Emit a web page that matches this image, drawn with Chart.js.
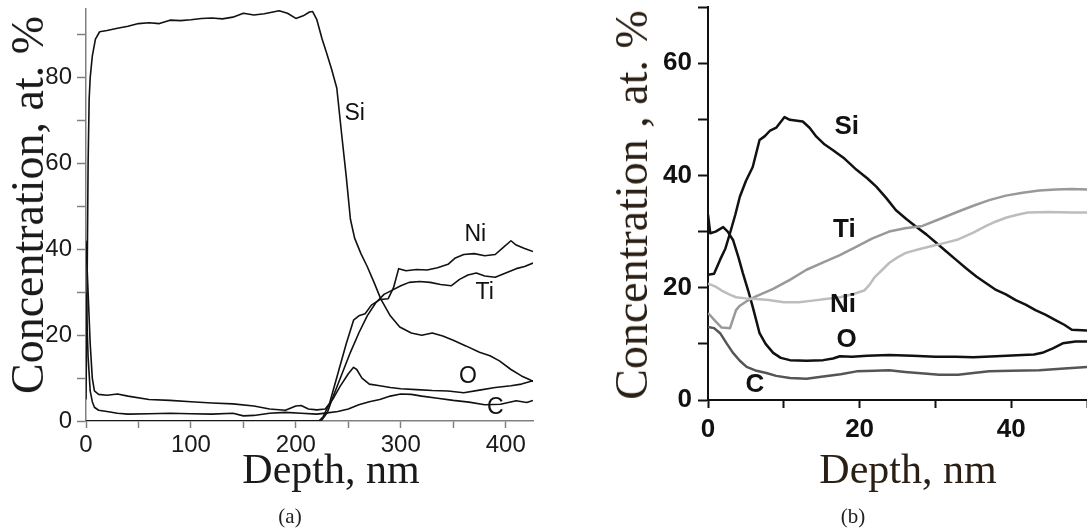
<!DOCTYPE html>
<html>
<head>
<meta charset="utf-8">
<script src="https://cdn.jsdelivr.net/npm/chart.js@4.4.1/dist/chart.umd.min.js"></script>
<style>
  html, body { margin: 0; padding: 0; background: #fff; }
  #page { position: relative; width: 1087px; height: 531px; overflow: hidden; }
  canvas { position: absolute; top: 0; }
  #chart-a { left: 0; }
  #chart-b { left: 560px; }
  .ytitle, .xtitle, .panel { position: absolute; font-family: "Liberation Serif", "Times New Roman", serif; white-space: nowrap; }
  .ytitle { font-size: 46px; line-height: 46px; transform: translate(-50%, -50%) rotate(-90deg); }
  .xtitle { font-size: 42px; line-height: 42px; transform: translateX(-50%); }
  .panel { font-size: 21px; line-height: 21px; transform: translateX(-50%); color: #222; }
</style>
</head>
<body>
<div id="page">
  <canvas id="chart-a" width="545" height="531"></canvas>
  <canvas id="chart-b" width="527" height="531"></canvas>
  <div class="ytitle" style="left:28px; top:205px; color:#1a1a1a;">Concentration, at. %</div>
  <div class="xtitle" style="left:331px; top:448px; color:#1a1a1a;">Depth, nm</div>
  <div class="panel" style="left:290px; top:506px;">(a)</div>
  <div class="ytitle" style="left:632px; top:205px; color:#2a1f14;">Concentration , at. %</div>
  <div class="xtitle" style="left:908px; top:448px; color:#2a1f14;">Depth, nm</div>
  <div class="panel" style="left:853px; top:506px;">(b)</div>
</div>
<script>
// ---- panel (a): depth profile, 0..426 nm ----
const aSiDepth = [0, 1, 2, 3, 4, 6, 9, 13, 20, 30, 40, 50, 60, 70, 80, 90, 100, 110, 120, 130, 140, 150, 160, 170, 184, 192, 200, 207, 213, 216, 220, 225, 229, 234, 239, 244, 248, 252, 256, 262, 268, 275, 281, 290, 299, 310, 320, 330, 340, 350, 362, 375, 385, 394, 405, 415, 423, 426];
const aSi      = [5, 30, 60, 75, 80, 85, 89, 90.7, 91, 91.5, 92, 92.6, 92.8, 92.6, 93.4, 93.3, 93.5, 93.8, 93.9, 93.7, 94.1, 95, 94.6, 94.9, 95.6, 95, 93.8, 94.4, 95.3, 95.4, 93.5, 89, 86, 82, 77.6, 66, 57, 47, 42.6, 39, 36, 32, 28.4, 24.5, 21.9, 20.5, 20, 20.5, 19.8, 18.8, 17.5, 16, 15.2, 14, 12, 10.5, 9.6, 9.2];

const aODepth = [0, 2, 4, 6, 8, 12, 20, 30, 40, 60, 80, 100, 120, 140, 160, 175, 190, 200, 205, 212, 220, 228, 235, 242, 250, 255, 258, 263, 270, 280, 290, 300, 315, 330, 345, 360, 375, 390, 405, 415, 426];
const aO      = [42, 30, 18, 10, 7, 6.2, 6, 6.3, 5.8, 5, 4.8, 4.5, 4.2, 4, 3.5, 2.8, 2.5, 3.5, 3.6, 2.8, 2.6, 2.8, 5, 8, 11, 12.5, 12, 10, 8.6, 8.2, 7.8, 7.5, 7.3, 7.1, 7, 6.6, 7.2, 7.8, 8.2, 8.6, 9.4];

const aCDepth = [0, 2, 4, 6, 8, 12, 20, 30, 40, 60, 80, 100, 120, 140, 150, 160, 175, 190, 205, 220, 230, 240, 250, 260, 270, 280, 290, 300, 310, 320, 335, 350, 365, 380, 395, 410, 420, 426];
const aC      = [30, 15, 7, 4.5, 3.2, 2.5, 2.2, 1.8, 1.6, 1.7, 1.8, 1.7, 1.6, 1.8, 1.2, 1.3, 1.8, 2, 1.8, 1.6, 1.9, 2.2, 2.8, 3.8, 4.5, 5, 5.8, 6.3, 6.2, 5.8, 5.3, 4.8, 4.4, 3.8, 3.9, 4.7, 4.3, 4.8];

const aNiDepth = [0, 222, 226, 232, 240, 248, 255, 260, 266, 272, 280, 288, 293, 298, 305, 315, 325, 335, 345, 352, 360, 370, 380, 390, 398, 405, 410, 418, 426];
const aNi      = [0, 0, 1, 4, 11, 18, 23.5, 24.5, 25, 27, 28.3, 28.5, 31, 35.5, 35, 35.3, 35.2, 35.7, 36.5, 38, 38.8, 39, 38.5, 38.8, 40.5, 42, 41, 40.2, 39.5];

const aTiDepth = [0, 224, 230, 236, 244, 252, 260, 268, 276, 284, 292, 300, 308, 318, 328, 338, 348, 356, 364, 372, 380, 390, 400, 410, 418, 426];
const aTi      = [0, 0, 2, 6, 11, 16, 20.5, 24.5, 27.5, 29.5, 30.5, 31.5, 32.3, 32.5, 32.3, 31.8, 31.5, 33, 34, 34.5, 33.8, 33.5, 34.5, 35.5, 36, 36.8];

const aTicksX = [0, 50, 100, 150, 200, 250, 300, 350, 400];
const aTickLabelsX = ['0', '', '100', '', '200', '', '300', '', '400'];
const aTicksY = [0, 10, 20, 30, 40, 50, 60, 70, 80, 90];
const aTickLabelsY = ['0', '', '20', '', '40', '', '60', '', '80', ''];

const aLabelText  = ['Si', 'Ni', 'Ti', 'O', 'C'];
const aLabelDepth = [256, 371, 380, 364, 390];
const aLabelConc  = [71.6, 43.4, 30, 10.3, 3];

// ---- panel (b): depth profile, 0..50 nm ----
const bSiDepth = [0, 0.8, 1.6, 2.3, 2.9, 3.6, 4.2, 5, 5.9, 6.8, 7.5, 8.2, 9, 10.1, 10.8, 12.5, 13.4, 14.3, 15.4, 16.5, 18, 19.6, 21, 22.2, 23.5, 24.8, 26.2, 27.5, 28.8, 30.1, 31.4, 32.7, 34, 35.4, 36.7, 38, 39.3, 40.6, 41.9, 43.2, 44.5, 45.9, 47, 48, 50];
const bSi      = [22.3, 22.5, 25, 27, 29.7, 33, 36.2, 39, 41.5, 46.3, 47, 48, 48.5, 50.4, 49.9, 49.6, 48.5, 46.9, 45.5, 44.5, 43, 41, 39.5, 38, 36, 33.8, 32.2, 30.8, 29.5, 28, 26.5, 25, 23.5, 22, 20.8, 19.6, 18.8, 17.8, 17, 16, 15.2, 14.2, 13.4, 12.5, 12.4];

const bODepth = [0, 0.3, 1, 2, 2.6, 3.3, 4, 4.6, 5.3, 5.9, 6.4, 6.8, 7.6, 8.6, 9.6, 10.8, 13, 15.2, 16.5, 17.4, 19, 21, 23.9, 27, 30, 32.7, 35, 38, 41.5, 43, 44.1, 45.5, 46.8, 48.5, 50];
const bO      = [33, 29.7, 30, 30.8, 30, 28.5, 25.5, 22.6, 19.5, 16.6, 14, 11.9, 10, 8.4, 7.5, 7.1, 7, 7.1, 7.4, 7.8, 7.7, 7.9, 8, 7.9, 7.7, 7.7, 7.6, 7.8, 8, 8.1, 8.4, 9.2, 10.1, 10.4, 10.4];

const bCDepth = [0, 0.8, 1.6, 2.5, 3.3, 4.2, 5.1, 6.4, 7.7, 9, 10.8, 13, 15.2, 17.5, 19.6, 22, 23.9, 26, 28.5, 30.5, 33, 35, 37.1, 40, 43.7, 47, 50];
const bC      = [13, 12.8, 11.9, 10, 8.4, 7, 5.9, 5.2, 4.8, 4.3, 3.9, 3.8, 4.2, 4.6, 5.1, 5.2, 5.3, 5, 4.7, 4.5, 4.5, 4.8, 5.1, 5.2, 5.3, 5.6, 5.9];

const bTiDepth = [0, 1, 1.8, 2.9, 3.7, 4.2, 5.1, 6.4, 8.6, 10.8, 13, 15.2, 17.4, 19.6, 21.7, 23.9, 26, 28.3, 30.5, 32.7, 35, 37.1, 39.3, 41.5, 43.7, 45.9, 48, 50];
const bTi      = [15.5, 14, 12.9, 12.8, 16, 16.8, 17.6, 18.5, 19.8, 21.4, 23.2, 24.5, 25.8, 27.3, 28.8, 30, 30.6, 31, 32.2, 33.4, 34.6, 35.6, 36.4, 36.9, 37.3, 37.5, 37.6, 37.5];

const bNiDepth = [0, 1, 1.8, 2.8, 3.7, 5, 6.4, 8, 10, 12, 13.8, 15.5, 17.4, 19, 20.6, 21.3, 22, 23, 23.9, 25, 26.1, 27.7, 29.4, 31, 33, 35, 36.7, 38, 39.4, 40.8, 42.2, 45, 48, 50];
const bNi      = [20.7, 20.2, 19.5, 18.8, 18.3, 18.1, 18, 17.8, 17.4, 17.4, 17.7, 18, 18.3, 18.8, 19.5, 20.5, 21.9, 23.2, 24.4, 25.4, 26.2, 26.8, 27.4, 27.9, 28.6, 29.8, 31, 31.8, 32.5, 33, 33.4, 33.5, 33.4, 33.4];

const bTicksX = [0, 10, 20, 30, 40, 50];
const bTickLabelsX = ['0', '', '20', '', '40', ''];
const bTicksY = [0, 10, 20, 30, 40, 50, 60, 70];
const bTickLabelsY = ['0', '', '20', '', '40', '', '60', ''];

const bLabelText  = ['Si', 'Ti', 'Ni', 'O', 'C'];
const bLabelDepth = [18.3, 18, 17.8, 18.3, 6.2];
const bLabelConc  = [48.6, 30.3, 16.9, 10.7, 2.7];

function pts(xs, ys) {
    return xs.map((x, i) => ({ x, y: ys[i] }));
}

function line(xs, ys, color, width) {
    return { data: pts(xs, ys), borderColor: color, borderWidth: width, pointRadius: 0, tension: 0, fill: false, borderJoinStyle: 'round' };
}

function axis(o) {
    return {
        type: 'linear', min: o.min, max: o.max,
        afterBuildTicks: s => { s.ticks = o.ticks.map(v => ({ value: v })); },
        afterFit: s => {
            if (o.width) s.width = o.width;
            if (o.height) s.height = o.height;
            s.paddingTop = 0; s.paddingBottom = 0; s.paddingLeft = 0; s.paddingRight = 0;
        },
        ticks: { autoSkip: false, maxRotation: 0, padding: o.pad, color: o.fg, font: o.font, callback: (v, i) => o.labels[i] },
        grid: { drawOnChartArea: false, drawTicks: true, tickLength: o.tl, tickColor: o.axisColor, tickWidth: o.lw, color: o.axisColor },
        border: { display: true, color: o.axisColor, width: o.lw }
    };
}

// series names written next to the curves, at data coordinates
function namesPlugin(texts, xs, ys, font, color) {
    return {
        id: 'names',
        afterDatasetsDraw(chart) {
            const { ctx, scales } = chart;
            ctx.save();
            ctx.font = font;
            ctx.fillStyle = color;
            ctx.textAlign = 'center';
            ctx.textBaseline = 'middle';
            texts.forEach((t, i) => ctx.fillText(t, scales.x.getPixelForValue(xs[i]), scales.y.getPixelForValue(ys[i])));
            ctx.restore();
        }
    };
}

const common = {
    responsive: false, animation: false, devicePixelRatio: 1,
    plugins: { legend: { display: false }, tooltip: { enabled: false } }
};

const fontA = { family: '"Liberation Sans", Arial, sans-serif', size: 24 };
new Chart(document.getElementById('chart-a'), {
    type: 'line',
    data: {
        datasets: [
            line(aSiDepth, aSi, '#111', 1.6),
            line(aODepth, aO, '#111', 1.6),
            line(aCDepth, aC, '#111', 1.6),
            line(aNiDepth, aNi, '#111', 1.6),
            line(aTiDepth, aTi, '#111', 1.6)
        ]
    },
    options: {
        ...common,
        layout: { padding: { left: 0, right: 12, top: 9, bottom: 0 } },
        scales: {
            x: axis({ min: 0, max: 426, ticks: aTicksX, labels: aTickLabelsX, height: 110, pad: 3, tl: 7, lw: 1.5, axisColor: '#808080', fg: '#1a1a1a', font: fontA }),
            y: axis({ min: 0, max: 96, ticks: aTicksY, labels: aTickLabelsY, width: 86, pad: 5, tl: 9, lw: 1.5, axisColor: '#808080', fg: '#1a1a1a', font: fontA })
        }
    },
    plugins: [namesPlugin(aLabelText, aLabelDepth, aLabelConc, '23px "Liberation Sans", Arial, sans-serif', '#111')]
});

const fontB = { family: '"Liberation Sans", Arial, sans-serif', size: 26, weight: 'bold' };
new Chart(document.getElementById('chart-b'), {
    type: 'line',
    data: {
        datasets: [
            line(bNiDepth, bNi, '#bdbdbd', 2.5),
            line(bTiDepth, bTi, '#999', 2.5),
            line(bCDepth, bC, '#555', 2.5),
            line(bODepth, bO, '#111', 2.5),
            line(bSiDepth, bSi, '#111', 2.5)
        ]
    },
    options: {
        ...common,
        layout: { padding: { left: 0, right: 0, top: 7, bottom: 0 } },
        scales: {
            x: axis({ min: 0, max: 50, ticks: bTicksX, labels: bTickLabelsX, height: 131, pad: 6, tl: 8, lw: 2, axisColor: '#111', fg: '#111', font: fontB }),
            y: axis({ min: 0, max: 70, ticks: bTicksY, labels: bTickLabelsY, width: 148, pad: 6, tl: 10, lw: 2, axisColor: '#111', fg: '#111', font: fontB })
        }
    },
    plugins: [namesPlugin(bLabelText, bLabelDepth, bLabelConc, 'bold 26px "Liberation Sans", Arial, sans-serif', '#111')]
});
</script>
</body>
</html>
